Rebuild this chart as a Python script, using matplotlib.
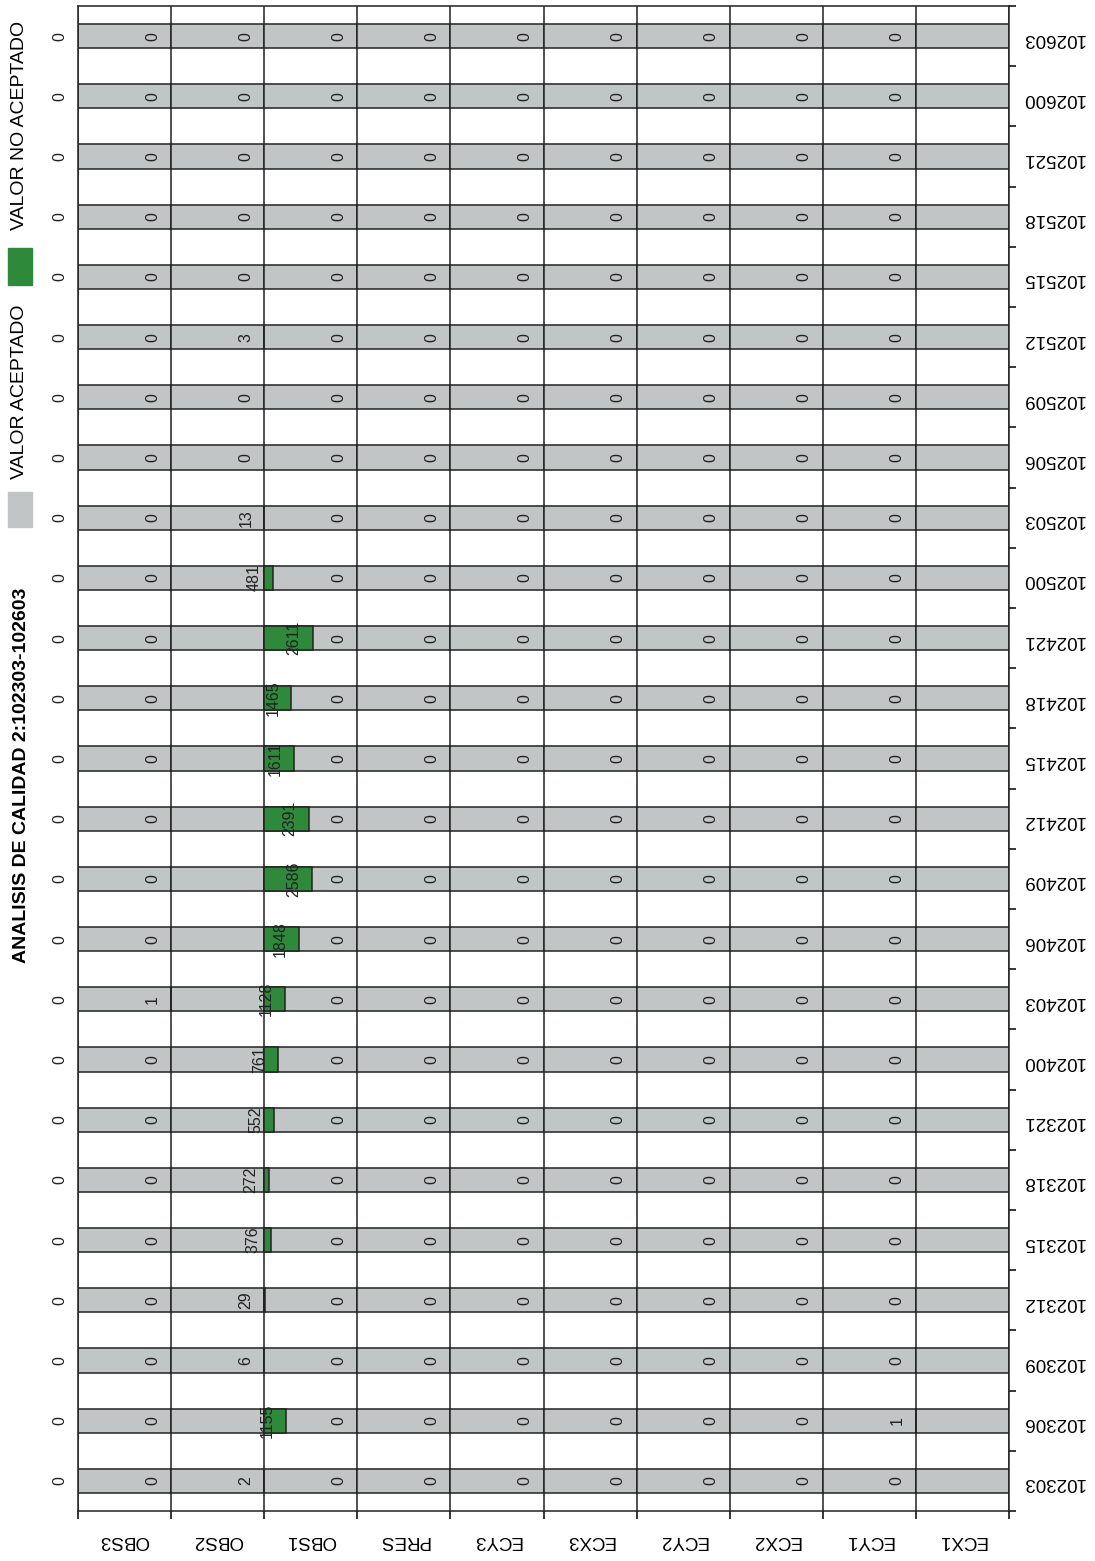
import matplotlib
matplotlib.use("Agg")
from matplotlib import pyplot as plt
from matplotlib.patches import Rectangle
import numpy as np

plt.rcParams['font.family'] = ['Liberation Sans', 'DejaVu Sans']

# categories, left to right in the picture
categories = ["OBS3", "OBS2", "OBS1", "PRES", "ECY3", "ECX3", "ECY2", "ECX2", "ECY1", "ECX1"]

dates = ["102303", "102306", "102309", "102312", "102315", "102318", "102321",
         "102400", "102403", "102406", "102409", "102412", "102415", "102418", "102421",
         "102500", "102503", "102506", "102509", "102512", "102515", "102518", "102521",
         "102600", "102603"]

# not-accepted counts per category
obs1 = [2, 1155, 6, 29, 376, 272, 552, 761, 1128, 1848, 2586, 2391, 1611, 1465, 2611,
        481, 13, 0, 0, 3, 0, 0, 0, 0, 0]
obs2 = [0] * 8 + [1] + [0] * 16
ecx1 = [0, 1] + [0] * 23
zeros = [0] * 25

counts = {c: zeros for c in categories}
counts["OBS1"] = obs1
counts["OBS2"] = obs2
counts["ECX1"] = ecx1

scale = 5000.0
grey = "#c2c5c5"
green = "#2e893b"

fig = plt.figure(figsize=(10.95, 15.61), dpi=100)
ax = fig.add_axes([78 / 1095, 50 / 1561, 931 / 1095, 1505 / 1561])

y = np.arange(len(dates))
for i, cat in enumerate(categories):
    ax.barh(y, 1, left=i, height=0.4, color=grey, edgecolor="#222222", linewidth=1.1, zorder=2)
    vals = np.array(counts[cat], dtype=float)
    w = vals / scale
    mask = vals > 0
    ax.barh(y[mask], w[mask], left=i, height=0.4, color=green, edgecolor="#222222",
            linewidth=1.1, zorder=3)
    for k in range(len(dates)):
        ax.text(i - 0.2 + w[k], y[k], str(int(vals[k])), rotation=90, ha="center",
                va="center", fontsize=11.5, color="#222222", zorder=4)

ax.set_xlim(0, len(categories))
ax.set_ylim(-0.5, len(dates) - 0.5)

# category boundaries as ticks + grid, names centred
ax.set_xticks(np.arange(len(categories) + 1))
ax.set_xticklabels([])
ax.set_xticks(np.arange(len(categories)) + 0.5, minor=True)
ax.set_xticklabels(categories, minor=True, rotation=180, fontsize=13.5)
ax.tick_params(axis="x", which="major", length=6, width=1.1, direction="out")
ax.tick_params(axis="x", which="minor", length=0, pad=15)
ax.grid(axis="x", which="major", color="#222222", linewidth=1.1, zorder=1)

ax.yaxis.tick_right()
ax.set_yticks(np.arange(len(dates) + 1) - 0.5)
ax.set_yticklabels([])
ax.set_yticks(y, minor=True)
ax.set_yticklabels(dates, minor=True, rotation=180, fontsize=13.5)
ax.tick_params(axis="y", which="major", length=5, width=1.1, direction="out")
ax.tick_params(axis="y", which="minor", length=0, pad=9)

for s in ax.spines.values():
    s.set_linewidth(1.1)
    s.set_color("#222222")

# title and legend, rotated like the rest of the picture
fig.text(22 / 1095, 1 - 775 / 1561, "ANALISIS DE CALIDAD 2:102303-102603", rotation=90,
         ha="center", va="center", fontsize=14, fontweight="bold")
fig.patches.append(Rectangle((8 / 1095, 1 - 527 / 1561), 24 / 1095, 35 / 1561,
                             transform=fig.transFigure, color=grey))
fig.patches.append(Rectangle((8 / 1095, 1 - 285 / 1561), 24 / 1095, 37 / 1561,
                             transform=fig.transFigure, color=green))
fig.text(20 / 1095, 1 - 392 / 1561, "VALOR ACEPTADO", rotation=90, ha="center",
         va="center", fontsize=14)
fig.text(20 / 1095, 1 - 125 / 1561, "VALOR NO ACEPTADO", rotation=90, ha="center",
         va="center", fontsize=14)

fig.savefig("out.png", dpi=100)
